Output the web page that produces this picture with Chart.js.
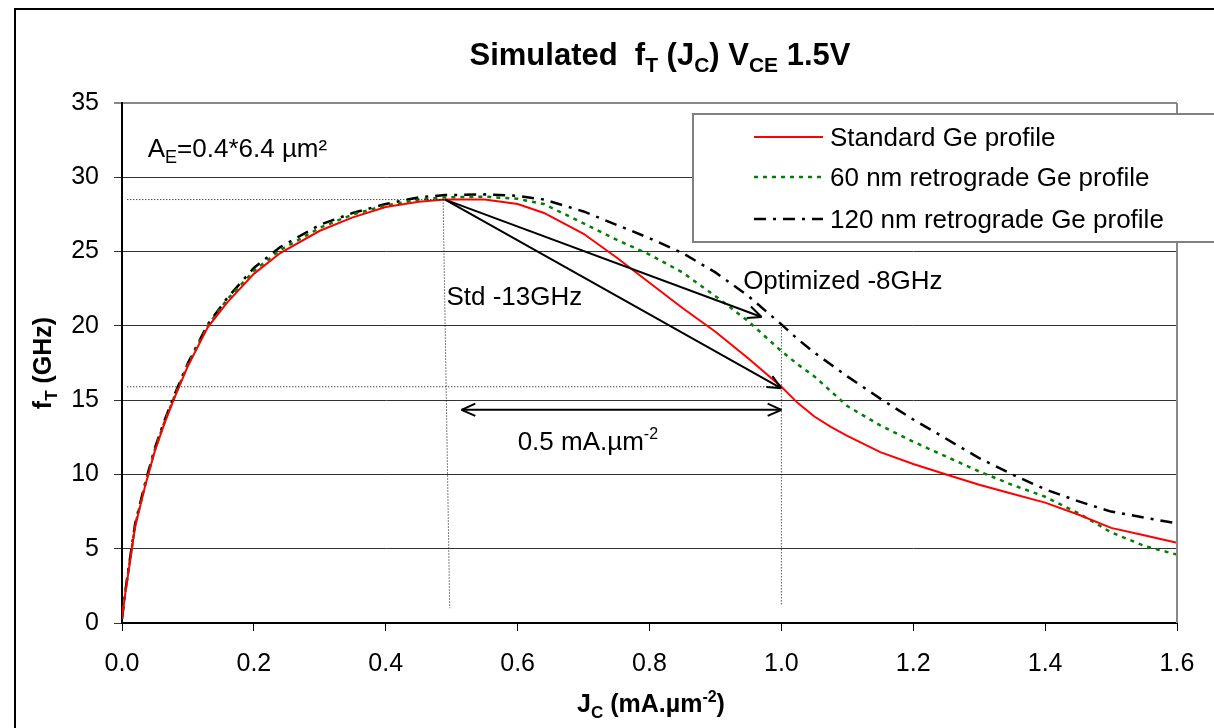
<!DOCTYPE html>
<html>
<head>
<meta charset="utf-8">
<script src="https://cdn.jsdelivr.net/npm/chart.js@4"></script>
<style>
html, body { margin: 0; padding: 0; background: #fff; }
#ftChart { display: block; }
</style>
</head>
<body>
<canvas id="ftChart" width="1214" height="728"></canvas>
<script>
const FONT = "'Liberation Sans', Arial, sans-serif";

/* Data */
// collector current density (mA.um-2)
const jc = [0, 0.005, 0.01, 0.02, 0.035, 0.05, 0.065, 0.08, 0.1, 0.13, 0.16, 0.2, 0.24, 0.3, 0.35, 0.4, 0.45, 0.49,
    0.55, 0.6, 0.64, 0.7, 0.75, 0.8, 0.85, 0.9, 0.95, 1.0, 1.025, 1.05, 1.075, 1.1, 1.15, 1.2, 1.25, 1.3, 1.35, 1.4,
    1.45, 1.5, 1.55, 1.6];

// fT (GHz) for each Ge profile
const ftStandard = [0.3, 2.0, 3.5, 6.5, 9.2, 11.6, 13.5, 15.2, 17.3, 19.9, 21.6, 23.5, 24.9, 26.4, 27.3, 28.0, 28.35, 28.5,
    28.5, 28.2, 27.6, 26.2, 24.6, 22.9, 21.2, 19.6, 17.8, 15.9, 14.8, 13.9, 13.2, 12.6, 11.5, 10.7, 10.0, 9.3, 8.7, 8.1,
    7.3, 6.4, 5.9, 5.4];
const ftRetro60 = [0.3, 2.1, 3.6, 6.6, 9.3, 11.7, 13.6, 15.3, 17.4, 20.0, 21.8, 23.7, 25.1, 26.6, 27.5, 28.1, 28.5, 28.65,
    28.7, 28.55, 28.2, 26.9, 25.8, 24.8, 23.6, 22.0, 20.3, 18.3, 17.4, 16.6, 15.6, 14.6, 13.3, 12.2, 11.2, 10.2, 9.3, 8.5,
    7.4, 6.1, 5.2, 4.6];
const ftRetro120 = [0.3, 2.1, 3.7, 6.7, 9.4, 11.8, 13.7, 15.4, 17.5, 20.1, 21.9, 23.9, 25.3, 26.8, 27.6, 28.2, 28.65, 28.8,
    28.85, 28.75, 28.5, 27.7, 26.8, 25.9, 24.9, 23.6, 22.0, 20.1, 19.1, 18.2, 17.4, 16.6, 15.1, 13.7, 12.4, 11.1, 10.0, 9.0,
    8.2, 7.5, 7.1, 6.7];

const seriesLabels = ['Standard Ge profile', '60 nm retrograde Ge profile', '120 nm retrograde Ge profile'];

// fT drop from the peak to 1.0 mA.um-2
const peakPoint = { x: 0.49, y: 28.5 };
const stdEndPoint = { x: 1.0, y: 15.8 };
const optEndPoint = { x: 0.97, y: 20.6 };
const spanStart = 0.515;
const spanEnd = 1.0;

function toPoints(xs, ys) {
    return xs.map((x, i) => ({ x: x, y: ys[i] }));
}

function font(size, bold) {
    return (bold ? 'bold ' : '') + size + 'px ' + FONT;
}

// text made of runs with their own size and vertical shift (sub/superscripts)
function drawRuns(ctx, runs, x, y, align) {
    let w = 0;
    runs.forEach(r => { ctx.font = r.font; w += ctx.measureText(r.t).width; });
    let cx = align === 'center' ? x - w / 2 : x;
    ctx.textAlign = 'left';
    ctx.textBaseline = 'alphabetic';
    runs.forEach(r => {
        ctx.font = r.font;
        ctx.fillText(r.t, cx, y + (r.dy || 0));
        cx += ctx.measureText(r.t).width;
    });
}

function line(ctx, x1, y1, x2, y2) {
    ctx.beginPath();
    ctx.moveTo(x1, y1);
    ctx.lineTo(x2, y2);
    ctx.stroke();
}

function arrowHead(ctx, fromX, fromY, toX, toY) {
    const a = Math.atan2(toY - fromY, toX - fromX);
    const len = 15, spread = 0.42;
    line(ctx, toX, toY, toX - len * Math.cos(a - spread), toY - len * Math.sin(a - spread));
    line(ctx, toX, toY, toX - len * Math.cos(a + spread), toY - len * Math.sin(a + spread));
}

const frame = {
    id: 'frame',
    beforeDraw(chart) {
        const ctx = chart.ctx;
        ctx.save();
        ctx.fillStyle = '#fff';
        ctx.fillRect(0, 0, chart.width, chart.height);
        ctx.strokeStyle = '#000';
        ctx.lineWidth = 2;
        ctx.beginPath();
        ctx.moveTo(15, chart.height + 5);
        ctx.lineTo(15, 9);
        ctx.lineTo(chart.width + 5, 9);
        ctx.stroke();
        ctx.restore();
    }
};

const annotations = {
    id: 'annotations',
    afterDatasetsDraw(chart) {
        const ctx = chart.ctx;
        const xs = chart.scales.x, ys = chart.scales.y;
        const px = v => xs.getPixelForValue(v);
        const py = v => ys.getPixelForValue(v);
        ctx.save();

        // guide lines
        ctx.strokeStyle = '#000';
        ctx.lineWidth = 1;
        ctx.setLineDash([1, 2]);
        line(ctx, px(0.008), py(peakPoint.y), px(peakPoint.x), py(peakPoint.y));
        line(ctx, px(0.008), py(stdEndPoint.y + 0.1), px(stdEndPoint.x), py(stdEndPoint.y + 0.1));
        line(ctx, px(peakPoint.x - 0.003), py(peakPoint.y), px(peakPoint.x + 0.007), py(1.0));
        line(ctx, px(stdEndPoint.x), py(20.1), px(stdEndPoint.x), py(1.2));
        ctx.setLineDash([]);

        // drop arrows
        ctx.lineWidth = 2;
        [stdEndPoint, optEndPoint].forEach(p => {
            const x1 = px(peakPoint.x), y1 = py(peakPoint.y);
            const x2 = px(p.x), y2 = py(p.y);
            line(ctx, x1, y1, x2, y2);
            arrowHead(ctx, x1, y1, x2, y2);
        });

        // 0.5 mA.um-2 span
        const sy = py(14.35);
        line(ctx, px(spanStart), sy, px(spanEnd), sy);
        arrowHead(ctx, px(spanEnd), sy, px(spanStart), sy);
        arrowHead(ctx, px(spanStart), sy, px(spanEnd), sy);

        ctx.fillStyle = '#000';
        drawRuns(ctx, [{ t: 'Std -13GHz', font: font(26) }], px(0.492), py(21.4), 'left');
        drawRuns(ctx, [{ t: 'Optimized -8GHz', font: font(26) }], px(0.942), py(22.48), 'left');
        drawRuns(ctx, [
            { t: '0.5 mA.\u00b5m', font: font(26) },
            { t: '-2', font: font(16), dy: -11 }
        ], px(0.6), py(11.64), 'left');
        drawRuns(ctx, [
            { t: 'A', font: font(26) },
            { t: 'E', font: font(18), dy: 6 },
            { t: '=0.4*6.4 \u00b5m\u00b2', font: font(26) }
        ], px(0.039), py(31.36), 'left');
        ctx.restore();
    },
    afterDraw(chart) {
        const ctx = chart.ctx;
        const area = chart.chartArea;
        ctx.save();
        ctx.fillStyle = '#000';

        // chart title
        drawRuns(ctx, [
            { t: 'Simulated  f', font: font(31, true) },
            { t: 'T', font: font(21, true), dy: 7 },
            { t: ' (J', font: font(31, true) },
            { t: 'C', font: font(21, true), dy: 7 },
            { t: ') V', font: font(31, true) },
            { t: 'CE', font: font(21, true), dy: 7 },
            { t: ' 1.5V', font: font(31, true) }
        ], 660, 65, 'center');

        // axis titles
        drawRuns(ctx, [
            { t: 'J', font: font(25, true) },
            { t: 'C', font: font(17, true), dy: 6 },
            { t: ' (mA.\u00b5m', font: font(25, true) },
            { t: '-2', font: font(16, true), dy: -10 },
            { t: ')', font: font(25, true) }
        ], 651, 712, 'center');
        ctx.save();
        ctx.translate(51, (area.top + area.bottom) / 2);
        ctx.rotate(-Math.PI / 2);
        drawRuns(ctx, [
            { t: 'f', font: font(25, true) },
            { t: 'T', font: font(17, true), dy: 6 },
            { t: ' (GHz)', font: font(25, true) }
        ], 0, 0, 'center');
        ctx.restore();

        // right edge of plot area
        ctx.strokeStyle = '#888';
        ctx.lineWidth = 2;
        line(ctx, area.right, area.top, area.right, area.bottom);

        // legend box
        const lx = 693, ly = 114, lh = 128;
        ctx.fillStyle = '#fff';
        ctx.fillRect(lx, ly, chart.width - lx + 10, lh);
        ctx.strokeStyle = '#808080';
        ctx.lineWidth = 2;
        ctx.strokeRect(lx, ly, chart.width - lx + 10, lh);
        const rows = [137, 177, 219];
        chart.data.datasets.forEach((ds, i) => {
            ctx.strokeStyle = ds.borderColor;
            ctx.lineWidth = ds.borderWidth;
            ctx.setLineDash(ds.borderDash || []);
            line(ctx, 754, rows[i], 823, rows[i]);
            ctx.setLineDash([]);
            ctx.fillStyle = '#000';
            drawRuns(ctx, [{ t: ds.label, font: font(26) }], 830, rows[i] + 8.5, 'left');
        });
        ctx.restore();
    }
};

/* Create chart */

const ftChart = new Chart('ftChart', {
    type: 'scatter',
    data: {
        datasets: [
            {
                label: seriesLabels[0],
                data: toPoints(jc, ftStandard),
                borderColor: '#ff0000',
                borderWidth: 2,
                showLine: true,
                pointRadius: 0,
            },
            {
                label: seriesLabels[1],
                data: toPoints(jc, ftRetro60),
                borderColor: '#008000',
                borderWidth: 2.5,
                borderDash: [4, 5],
                showLine: true,
                pointRadius: 0,
            },
            {
                label: seriesLabels[2],
                data: toPoints(jc, ftRetro120),
                borderColor: '#000000',
                borderWidth: 2.5,
                borderDash: [12, 7, 3, 7],
                showLine: true,
                pointRadius: 0,
            },
        ]
    },
    options: {
        responsive: false,
        animation: false,
        layout: {
            padding: { left: 14, top: 103, right: 37, bottom: 0 }
        },
        scales: {
            x: {
                type: 'linear',
                min: 0,
                max: 1.6,
                afterFit: s => { s.height = 105; },
                ticks: {
                    stepSize: 0.2,
                    padding: 18,
                    color: '#000',
                    font: { family: FONT, size: 25 },
                    callback: v => v.toFixed(1),
                },
                grid: {
                    drawOnChartArea: false,
                    tickLength: 8,
                    color: '#000',
                },
                border: { color: '#000', width: 2 },
            },
            y: {
                type: 'linear',
                min: 0,
                max: 35,
                afterFit: s => { s.width = 108; },
                ticks: {
                    stepSize: 5,
                    padding: 15,
                    color: '#000',
                    font: { family: FONT, size: 25 },
                },
                grid: {
                    tickLength: 8,
                    color: ctx => (ctx.tick && ctx.tick.value === 35 ? '#888' : '#333'),
                    lineWidth: ctx => (ctx.tick && ctx.tick.value === 35 ? 2 : 1),
                },
                border: { color: '#000', width: 2 },
            }
        },
        plugins: {
            legend: { display: false },
            title: { display: false },
            tooltip: { enabled: false },
        }
    },
    plugins: [frame, annotations]
});
</script>
</body>
</html>
